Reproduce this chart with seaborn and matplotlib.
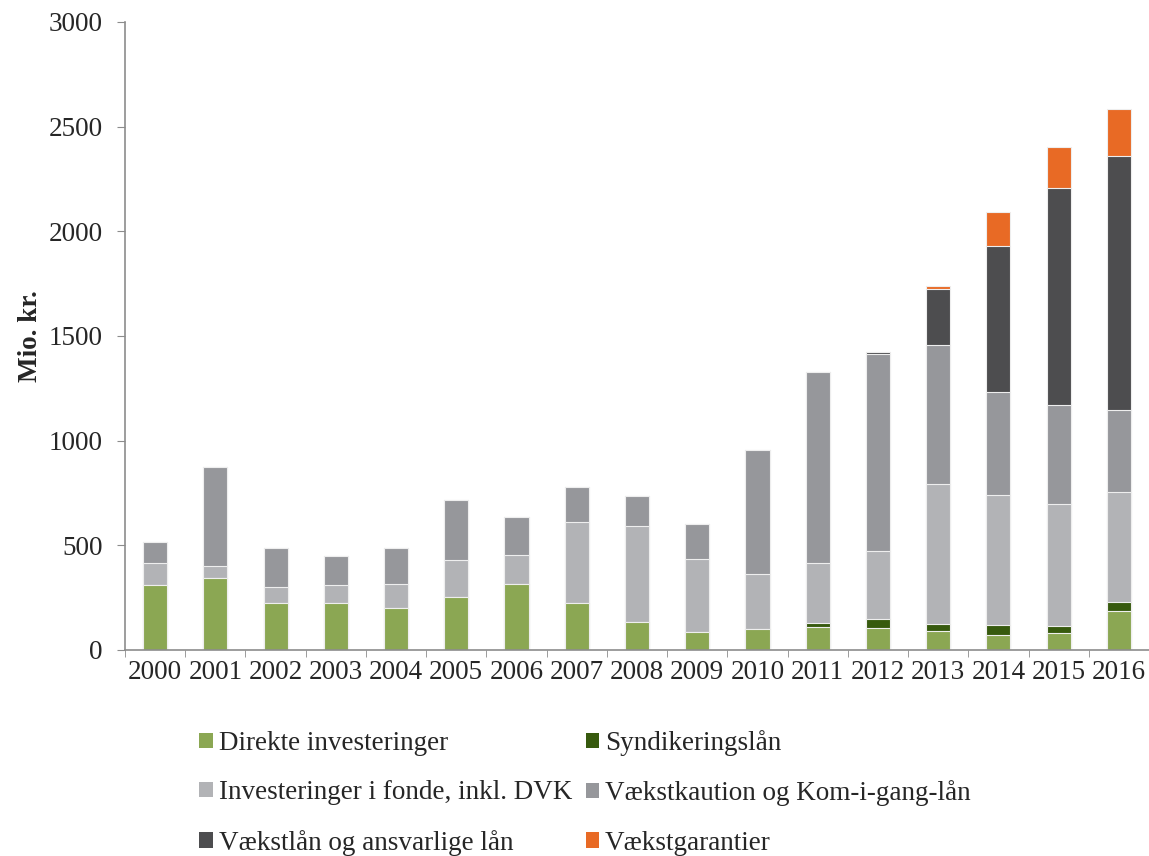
import pandas as pd
import matplotlib.pyplot as plt
import seaborn as sns
import numpy as np
from matplotlib.patches import Patch

years = [str(y) for y in range(2000, 2017)]

# Mio. kr. per year
direkte = [310, 345, 225, 225, 202, 255, 314, 226, 135, 85, 102, 110, 104, 91, 73, 83, 188]
syndikering = [0, 0, 0, 0, 0, 0, 0, 0, 0, 0, 0, 17, 44, 32, 47, 33, 41]
fonde = [105, 55, 78, 85, 113, 175, 142, 386, 458, 350, 261, 290, 327, 670, 621, 582, 526]
kaution = [100, 475, 183, 140, 171, 288, 178, 166, 143, 169, 593, 913, 937, 665, 492, 472, 392]
vaekstlaan = [0, 0, 0, 0, 0, 0, 0, 0, 0, 0, 0, 0, 12, 266, 695, 1035, 1211]
garantier = [0, 0, 0, 0, 0, 0, 0, 0, 0, 0, 0, 0, 0, 16, 162, 199, 225]

labels = ['Direkte investeringer', 'Syndikeringslån',
          'Investeringer i fonde, inkl. DVK', 'Vækstkaution og Kom-i-gang-lån',
          'Vækstlån og ansvarlige lån', 'Vækstgarantier']
colors = ['#8BA753', '#375A0E', '#B2B3B6', '#96979B', '#4D4D4F', '#E86A25']

df = pd.DataFrame({'year': years, labels[0]: direkte, labels[1]: syndikering,
                   labels[2]: fonde, labels[3]: kaution, labels[4]: vaekstlaan,
                   labels[5]: garantier})
cum = df[labels].cumsum(axis=1)
cum['year'] = years

sns.set_style('white')
plt.rcParams['font.family'] = ['Liberation Serif', 'DejaVu Serif']
fs = 19.5

fig = plt.figure(figsize=(11.49, 8.56), dpi=100)
ax = fig.add_axes([0.1088, 0.2407, 0.8912, 0.7336])

# stacked bars: draw the running totals from the top layer down
for lab, col in zip(labels[::-1], colors[::-1]):
    sns.barplot(data=cum, x='year', y=lab, color=col, width=0.4,
                edgecolor='#EEEEEE', linewidth=0.8, ax=ax, saturation=1)

ax.set_xlim(-0.5, 16.5)
ax.set_ylim(0, 3000)
ax.set_yticks(np.arange(0, 3001, 500))
ax.set_xlabel('')
ax.set_ylabel('Mio. kr.', fontsize=fs, fontweight='bold', labelpad=4)

for s in ['top', 'right']:
    ax.spines[s].set_visible(False)
for s in ['left', 'bottom']:
    ax.spines[s].set_color('#8C8C8C')
    ax.spines[s].set_linewidth(1.2)

ax.set_xticks(np.arange(-0.5, 17, 1), minor=True)
ax.tick_params(axis='x', which='major', length=0, labelsize=fs, pad=7)
ax.tick_params(axis='x', which='minor', length=5, color='#8C8C8C', direction='out', bottom=True)
ax.tick_params(axis='y', length=6, color='#8C8C8C', direction='out', left=True, labelsize=fs, pad=10)

handles = [Patch(facecolor=c, edgecolor='none') for c in colors]
order = [0, 2, 4, 1, 3, 5]
fig.legend([handles[i] for i in order], [labels[i] for i in order],
           ncol=2, loc='upper left', bbox_to_anchor=(0.1616, 0.163),
           frameon=False, fontsize=fs, handlelength=0.5, handleheight=0.5,
           handletextpad=0.22, columnspacing=0.5, labelspacing=0.9, borderpad=0)

fig.savefig('out.png', dpi=100)
